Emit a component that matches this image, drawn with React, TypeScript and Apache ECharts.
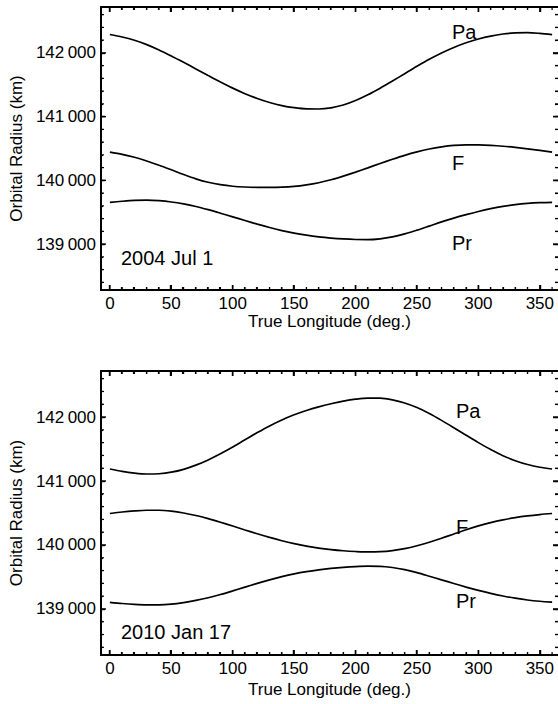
import React, { useEffect, useRef } from "react";
import * as echarts from "echarts";

// True longitude (deg.)
const longitude = [
  0, 10, 20, 30, 40, 50, 60, 70, 80, 90, 100, 110, 120, 130, 140, 150, 160, 170, 180,
  190, 200, 210, 220, 230, 240, 250, 260, 270, 280, 290, 300, 310, 320, 330, 340, 350, 360,
];

// 2004 Jul 1 (km)
const pa2004 = [
  142288, 142250, 142198, 142130, 142046, 141952, 141852, 141749, 141645, 141543, 141447,
  141360, 141285, 141222, 141173, 141140, 141121, 141120, 141138, 141182, 141252, 141342,
  141446, 141558, 141674, 141790, 141900, 141999, 142085, 142158, 142218, 142264, 142296,
  142313, 142317, 142306, 142288,
];
const f2004 = [
  140442, 140407, 140362, 140304, 140238, 140166, 140092, 140024, 139970, 139932, 139908,
  139896, 139891, 139890, 139893, 139905, 139929, 139963, 140009, 140066, 140129, 140196,
  140265, 140331, 140393, 140447, 140492, 140526, 140549, 140558, 140556, 140548, 140535,
  140517, 140495, 140470, 140442,
];
const pr2004 = [
  139654, 139672, 139686, 139690, 139681, 139661, 139630, 139590, 139540, 139485, 139428,
  139370, 139313, 139260, 139212, 139172, 139140, 139114, 139095, 139081, 139072, 139070,
  139083, 139113, 139160, 139219, 139283, 139348, 139408, 139462, 139512, 139556, 139592,
  139619, 139638, 139650, 139656,
];

// 2010 Jan 17 (km)
const pa2010 = [
  141188, 141150, 141124, 141110, 141114, 141138, 141183, 141248, 141330, 141425, 141532,
  141645, 141757, 141862, 141955, 142035, 142103, 142160, 142208, 142248, 142279, 142297,
  142295, 142268, 142220, 142148, 142055, 141948, 141833, 141715, 141600, 141492, 141396,
  141318, 141258, 141215, 141188,
];
const f2010 = [
  140492, 140516, 140533, 140543, 140543, 140528, 140500, 140461, 140412, 140356, 140296,
  140235, 140175, 140118, 140066, 140021, 139983, 139952, 139928, 139910, 139898, 139891,
  139895, 139912, 139943, 139988, 140043, 140105, 140172, 140238, 140298, 140350, 140393,
  140428, 140455, 140476, 140492,
];
const pr2010 = [
  139104, 139085, 139071, 139064, 139064, 139075, 139100, 139134, 139175, 139225, 139283,
  139342, 139400, 139455, 139505, 139548, 139583, 139611, 139633, 139650, 139662, 139668,
  139666, 139648, 139614, 139567, 139512, 139455, 139398, 139342, 139290, 139243, 139202,
  139168, 139140, 139120, 139106,
];

// Tick values / tick-axis extents [min, max, interval]
const xMajor = [0, 50, 100, 150, 200, 250, 300, 350];
const xMinor = [
  10, 20, 30, 40, 60, 70, 80, 90, 110, 120, 130, 140, 160, 170, 180, 190, 210, 220, 230, 240,
  260, 270, 280, 290, 310, 320, 330, 340, 360,
];
const yMajor = [139000, 140000, 141000, 142000];
const yMinor = [
  138400, 138600, 138800, 139200, 139400, 139600, 139800, 140200, 140400, 140600, 140800,
  141200, 141400, 141600, 141800, 142200, 142400, 142600,
];
const xTickRange = [0, 350, 50];
const yMajorRange = [139000, 142000, 1000];
const yMinorRange = [138400, 142600, 200];

const curveNames = ["Pa", "F", "Pr"];
const dateLabels = ["2004 Jul 1", "2010 Jan 17"];

const FONT = '"Liberation Sans", Arial, Helvetica, sans-serif';
const X_MIN = -7.2;
const X_MAX = 364.8;
const Y_MIN = 138280;
const Y_MAX = 142720;

function fmtY(v: number) {
  const s = String(Math.round(v));
  return s.slice(0, s.length - 3) + "\u2009" + s.slice(s.length - 3);
}

function tickSeries(values: number[], dim: "x" | "y", len: number, width: number, axisIndex: number) {
  return {
    type: "custom",
    xAxisIndex: axisIndex,
    yAxisIndex: axisIndex,
    silent: true,
    z: 5,
    data: values.map((v) => (dim === "x" ? [v, Y_MIN] : [X_MIN, v])),
    renderItem: (params: any, api: any) => {
      const style = { stroke: "#000", lineWidth: width };
      if (dim === "x") {
        const v = api.value(0);
        const a = api.coord([v, Y_MIN]);
        const b = api.coord([v, Y_MAX]);
        return {
          type: "group",
          children: [
            { type: "line", shape: { x1: a[0], y1: a[1], x2: a[0], y2: a[1] - len }, style },
            { type: "line", shape: { x1: b[0], y1: b[1], x2: b[0], y2: b[1] + len }, style },
          ],
        };
      }
      const v = api.value(1);
      const a = api.coord([X_MIN, v]);
      const b = api.coord([X_MAX, v]);
      return {
        type: "group",
        children: [
          { type: "line", shape: { x1: a[0], y1: a[1], x2: a[0] + len, y2: a[1] }, style },
          { type: "line", shape: { x1: b[0], y1: b[1], x2: b[0] - len, y2: b[1] }, style },
        ],
      };
    },
  };
}

export default function App() {
  const ref = useRef<HTMLDivElement>(null);

  useEffect(() => {
    if (!ref.current) return;
    const chart = echarts.init(ref.current, null, { renderer: "svg" });

    const L = 100;
    const W = 458;
    const panels = [
      { top: 7, height: 283, nameGap: 23, data: [pa2004, f2004, pr2004] },
      { top: 371, height: 284, nameGap: 26, data: [pa2010, f2010, pr2010] },
    ];

    const grids: any[] = [];
    const xAxes: any[] = [];
    const yAxes: any[] = [];
    const series: any[] = [];

    const frameLine = () => ({ show: true, onZero: false, lineStyle: { color: "#000", width: 2 } });
    const invisible = () => ({
      type: "value",
      min: 0,
      max: 1,
      axisLine: { show: false, onZero: false },
      axisTick: { show: false },
      axisLabel: { show: false },
      splitLine: { show: false },
    });
    const tickAxis = (rng: number[], position: string, length: number, width: number, minor: boolean) => ({
      type: "value",
      min: rng[0],
      max: rng[1],
      interval: rng[2],
      position,
      axisLine: { show: false, onZero: false },
      axisTick: { show: true, inside: true, length, lineStyle: { color: "#000", width } },
      minorTick: minor
        ? { show: true, splitNumber: 5, length: 3, lineStyle: { color: "#000", width: 1.2 } }
        : { show: false },
      axisLabel: { show: false },
      splitLine: { show: false },
    });
    const addGrid = (rect: any, xa: any, ya: any) => {
      const gi = grids.length;
      grids.push({ ...rect });
      xAxes.push({ ...xa, gridIndex: gi });
      yAxes.push({ ...ya, gridIndex: gi });
    };

    panels.forEach((p, pi) => {
      const kx = W / (X_MAX - X_MIN);
      const ky = p.height / (Y_MAX - Y_MIN);

      // main plotting grid: frame, labels, names
      const gi = grids.length;
      grids.push({ left: L, top: p.top, width: W, height: p.height });
      const ai = xAxes.length;
      xAxes.push({
        type: "value",
        gridIndex: gi,
        min: X_MIN,
        max: X_MAX,
        position: "bottom",
        axisLine: frameLine(),
        axisTick: { show: false },
        splitLine: { show: false },
        axisLabel: { show: true, customValues: xMajor, margin: 5, fontSize: 17, color: "#000", fontFamily: FONT },
        name: "True Longitude (deg.)",
        nameLocation: "middle",
        nameGap: p.nameGap,
        nameTextStyle: { fontSize: 17, color: "#000", fontFamily: FONT },
      });
      xAxes.push({
        type: "value",
        gridIndex: gi,
        min: X_MIN,
        max: X_MAX,
        position: "top",
        axisLine: frameLine(),
        axisTick: { show: false },
        axisLabel: { show: false },
        splitLine: { show: false },
      });
      const yi = yAxes.length;
      yAxes.push({
        type: "value",
        gridIndex: gi,
        min: Y_MIN,
        max: Y_MAX,
        position: "left",
        axisLine: frameLine(),
        axisTick: { show: false },
        splitLine: { show: false },
        axisLabel: { show: true, customValues: yMajor, margin: 5, fontSize: 17, color: "#000", fontFamily: FONT, formatter: fmtY },
        name: "Orbital Radius (km)",
        nameLocation: "middle",
        nameGap: 74,
        nameTextStyle: { fontSize: 17, color: "#000", fontFamily: FONT },
      });
      yAxes.push({
        type: "value",
        gridIndex: gi,
        min: Y_MIN,
        max: Y_MAX,
        position: "right",
        axisLine: { show: false, onZero: false },
        axisTick: { show: false },
        axisLabel: { show: false },
        splitLine: { show: false },
      });

      p.data.forEach((vals, si) => {
        series.push({
          type: "line",
          name: dateLabels[pi] + " " + curveNames[si],
          xAxisIndex: ai,
          yAxisIndex: yi,
          data: longitude.map((x, i) => [x, vals[i]]),
          showSymbol: false,
          smooth: 0.3,
          lineStyle: { color: "#000", width: 1.7 },
        });
      });

      series.push({ ...tickSeries(xMajor, "x", 5, 1.4, ai), yAxisIndex: yi });
      series.push({ ...tickSeries(xMinor, "x", 3, 1.2, ai), yAxisIndex: yi });
      series.push({ ...tickSeries(yMajor, "y", 5, 1.4, ai), yAxisIndex: yi });
      series.push({ ...tickSeries(yMinor, "y", 3, 1.2, ai), yAxisIndex: yi });

      // axis-based tick grids, fully inside the canvas
      const xRect = { left: L + (xTickRange[0] - X_MIN) * kx, top: p.top, width: (xTickRange[1] - xTickRange[0]) * kx, height: p.height };
      ["bottom", "top"].forEach((pos) => addGrid(xRect, tickAxis(xTickRange, pos, 5, 1.4, true), invisible()));
      [yMajorRange, yMinorRange].forEach((rng, ri) => {
        const yRect = { left: L, top: p.top + (Y_MAX - rng[1]) * ky, width: W, height: (rng[1] - rng[0]) * ky };
        ["left", "right"].forEach((pos) =>
          addGrid(yRect, invisible(), tickAxis(rng, pos, ri === 0 ? 5 : 3, ri === 0 ? 1.4 : 1.2, false))
        );
      });
    });

    const textStyle = (text: string) => ({
      text,
      fill: "#000",
      fontSize: 20,
      fontFamily: FONT,
      verticalAlign: "middle",
      align: "left",
    });

    const graphic: any[] = [
      { type: "text", x: 121, y: 258, style: textStyle(dateLabels[0]) },
      { type: "text", x: 121, y: 632, style: textStyle(dateLabels[1]) },
      { type: "text", x: 452, y: 32, style: textStyle(curveNames[0]) },
      { type: "text", x: 452, y: 163, style: textStyle(curveNames[1]) },
      { type: "text", x: 452, y: 243, style: textStyle(curveNames[2]) },
      { type: "text", x: 456, y: 411, style: textStyle(curveNames[0]) },
      { type: "text", x: 456, y: 527, style: textStyle(curveNames[1]) },
      { type: "text", x: 456, y: 601, style: textStyle(curveNames[2]) },
    ];

    chart.setOption({
      animation: false,
      grid: grids,
      xAxis: xAxes,
      yAxis: yAxes,
      series,
      graphic,
    });

    return () => chart.dispose();
  }, []);

  return (
    <div
      ref={ref}
      style={{ position: "absolute", left: 0, top: 0, width: 558, height: 704, background: "#fff" }}
    />
  );
}
